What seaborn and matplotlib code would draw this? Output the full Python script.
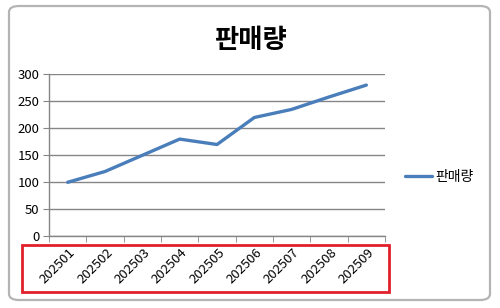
import matplotlib
matplotlib.use("Agg")
import matplotlib.pyplot as plt
import matplotlib.transforms as mtransforms
import seaborn as sns
import pandas as pd
from matplotlib.patches import FancyBboxPatch, Rectangle
from matplotlib.lines import Line2D

months = ["202501", "202502", "202503", "202504", "202505", "202506", "202507", "202508", "202509"]
sales = [100, 120, 150, 180, 170, 220, 235, 258, 280]
title = "판매량"
series_name = "판매량"
yticks = [0, 50, 100, 150, 200, 250, 300]

sns.set_style("white")
plt.rcParams['font.family'] = ['Noto Sans CJK KR', 'DejaVu Sans']
plt.rcParams['text.color'] = 'black'
plt.rcParams['xtick.color'] = 'black'
plt.rcParams['ytick.color'] = 'black'

df = pd.DataFrame({"월": months, series_name: sales})

fig = plt.figure(figsize=(5.0, 3.08), dpi=100)
fig.patch.set_facecolor("white")

# chart area border
fig.patches.append(FancyBboxPatch((9/500, 1-300/308), 481/500, 294/308,
                                  boxstyle="round,pad=0,rounding_size=0.02",
                                  transform=fig.transFigure, facecolor="none",
                                  edgecolor="#b4b4b4", linewidth=1.6, zorder=-1))

ax = fig.add_axes([49/500, 1-236.3/308, 336/500, 162/308])
ax.patch.set_alpha(0)
line_color = "#4a7ebb"
sns.lineplot(data=df, x="월", y=series_name, sort=False, ax=ax, color=line_color,
             linewidth=2.4, legend=False)

ax.set_xlim(-0.5, len(months) - 0.5)
ax.set_ylim(0, 300)
ax.set_yticks(yticks)
ax.yaxis.grid(True, color="#868686", linewidth=1)
ax.xaxis.grid(False)
ax.set_axisbelow(True)
ax.set_xlabel("")
ax.set_ylabel("")
for s in ["top", "right"]:
    ax.spines[s].set_visible(False)
for s in ["left", "bottom"]:
    ax.spines[s].set_color("#868686")
    ax.spines[s].set_linewidth(1)

ax.tick_params(axis="y", length=4, color="#868686", labelcolor="black", labelsize=9.5, pad=3, left=True)
ax.set_xticks(range(len(months)))
ax.set_xticklabels(months, rotation=45, ha="right", va="center", rotation_mode="anchor", fontsize=9.5)
ax.tick_params(axis="x", which="major", length=0, pad=10, labelcolor="black")
ax.set_xticks([i - 0.5 for i in range(len(months) + 1)], minor=True)
ax.tick_params(axis="x", which="minor", length=4, color="#868686", bottom=True)

offset = mtransforms.ScaledTranslation(4/72, 0, fig.dpi_scale_trans)
for lbl in ax.get_xticklabels():
    lbl.set_transform(lbl.get_transform() + offset)

fig.text(0.5, 1 - 40/308, title, fontsize=19, fontweight="bold", color="black",
         ha="center", va="center")

# legend
handle = Line2D([0], [0], color=line_color, linewidth=2.4)
fig.legend([handle], [series_name], loc="center left", bbox_to_anchor=(392/500, 1-177/308),
           frameon=False, fontsize=10, handlelength=1.95, handletextpad=0.3)

# red highlight box around x labels
fig.patches.append(Rectangle((22/500, 1-292/308), 367/500, 47/308, transform=fig.transFigure,
                             facecolor="none", edgecolor="#e0202a", linewidth=2, zorder=5))

fig.savefig("out.png", dpi=100)
